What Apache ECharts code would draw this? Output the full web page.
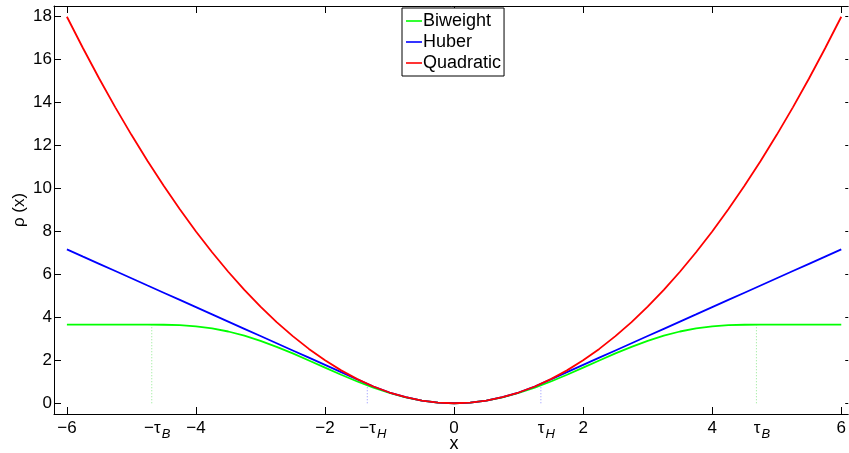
<!DOCTYPE html>
<html>
<head>
<meta charset="utf-8">
<script src="https://cdn.jsdelivr.net/npm/echarts@6/dist/echarts.min.js"></script>
<style>
  html, body { margin: 0; padding: 0; background: #fff; overflow: hidden; }
  #chart { width: 849px; height: 453px; }
</style>
</head>
<body>
<div id="chart"></div>
<script>
// Loss functions rho(x) sampled on x = -6 .. 6
const xs = [-6, -5.75, -5.5, -5.25, -5, -4.75, -4.5, -4.25, -4, -3.75, -3.5, -3.25, -3, -2.75, -2.5, -2.25,
  -2, -1.75, -1.5, -1.25, -1, -0.75, -0.5, -0.25, 0, 0.25, 0.5, 0.75, 1, 1.25, 1.5, 1.75, 2,
  2.25, 2.5, 2.75, 3, 3.25, 3.5, 3.75, 4, 4.25, 4.5, 4.75, 5, 5.25, 5.5, 5.75, 6];

const biweight = [3.658, 3.658, 3.658, 3.658, 3.658, 3.658, 3.656, 3.638, 3.585, 3.488, 3.342, 3.147, 2.907,
  2.628, 2.320, 1.992, 1.658, 1.328, 1.014, 0.727, 0.478, 0.274, 0.124, 0.031, 0,
  0.031, 0.124, 0.274, 0.478, 0.727, 1.014, 1.328, 1.658, 1.992, 2.320, 2.628, 2.907, 3.147,
  3.342, 3.488, 3.585, 3.638, 3.656, 3.658, 3.658, 3.658, 3.658, 3.658, 3.658];

const huber = [7.166, 6.829, 6.493, 6.157, 5.821, 5.484, 5.148, 4.812, 4.476, 4.139, 3.803, 3.467, 3.131,
  2.794, 2.458, 2.122, 1.786, 1.449, 1.113, 0.781, 0.5, 0.281, 0.125, 0.031, 0,
  0.031, 0.125, 0.281, 0.5, 0.781, 1.113, 1.449, 1.786, 2.122, 2.458, 2.794, 3.131, 3.467,
  3.803, 4.139, 4.476, 4.812, 5.148, 5.484, 5.821, 6.157, 6.493, 6.829, 7.166];

const quadratic = [18, 16.531, 15.125, 13.781, 12.5, 11.281, 10.125, 9.031, 8, 7.031, 6.125, 5.281, 4.5,
  3.781, 3.125, 2.531, 2, 1.531, 1.125, 0.781, 0.5, 0.281, 0.125, 0.031, 0,
  0.031, 0.125, 0.281, 0.5, 0.781, 1.125, 1.531, 2, 2.531, 3.125, 3.781, 4.5, 5.281,
  6.125, 7.031, 8, 9.031, 10.125, 11.281, 12.5, 13.781, 15.125, 16.531, 18];

// Tuning constants and the loss value at each
const tauB = 4.685;
const tauH = 1.345;
const rhoAtTauB = 3.658;
const rhoAtTauH = 0.905;

const xTicks = [-6, -4, -2, 0, 2, 4, 6];
const yTicks = [0, 2, 4, 6, 8, 10, 12, 14, 16, 18];
const seriesNames = ['Biweight', 'Huber', 'Quadratic'];
const seriesColors = ['#00ff00', '#0000ff', '#ff0000'];

const FONT = '"Liberation Sans", Arial, Helvetica, sans-serif';
const FS = 17;
const X_MIN = -6.2, X_MAX = 6.108;
const xLabelValues = xTicks.concat([-tauB, -tauH, tauH, tauB]).sort((a, b) => a - b);

// tau labels: the symbol is centred on the tick, the italic subscript hangs to its right
function xLabel(v) {
  const near = (a, b) => Math.abs(a - b) < 1e-6;
  if (near(v, -tauB)) return '{tl|\u2212\u03c4}{s|B}';
  if (near(v, tauB)) return '{tl|\u03c4}{s|B}';
  if (near(v, -tauH)) return '{tl|\u2212\u03c4}{s|H}';
  if (near(v, tauH)) return '{tl|\u03c4}{s|H}';
  return '{t|' + (v < 0 ? '\u2212' + (-v) : String(v)) + '}';
}

const pair = (a, b) => a.map((v, i) => [v, b[i]]);

const chart = echarts.init(document.getElementById('chart'), null, { renderer: 'canvas' });

const axisLineStyle = { color: '#000', width: 1 };

chart.setOption({
  animation: false,
  backgroundColor: '#fff',
  textStyle: { fontFamily: FONT },
  grid: { left: 54, top: 6, right: 0, height: 408, containLabel: false },
  legend: {
    orient: 'vertical',
    left: 402,
    top: 8,
    data: seriesNames,
    icon: 'rect',
    itemWidth: 16,
    itemHeight: 1.6,
    itemGap: 3,
    padding: [4, 3, 4, 4],
    backgroundColor: '#fff',
    borderColor: '#000',
    borderWidth: 1,
    borderRadius: 0,
    textStyle: { fontFamily: FONT, fontSize: 18, color: '#000', padding: [0, 0, 0, -4] }
  },
  xAxis: [{
    type: 'value',
    min: X_MIN,
    max: X_MAX,
    axisLine: { lineStyle: axisLineStyle, onZero: false },
    splitLine: { show: false },
    axisTick: { inside: true, length: 7, lineStyle: axisLineStyle, customValues: xTicks },
    axisLabel: {
      customValues: xLabelValues,
      margin: 6,
      hideOverlap: false,
      formatter: xLabel,
      rich: {
        t: { fontFamily: FONT, fontSize: FS, color: '#000', verticalAlign: 'top' },
        tl: { fontFamily: FONT, fontSize: FS, color: '#000', verticalAlign: 'top',
              padding: [0, 0, 0, 11] },
        s: { fontFamily: FONT, fontSize: 13, fontStyle: 'italic', color: '#000',
             verticalAlign: 'top', padding: [8, 0, 0, 1] }
      }
    }
  }, {
    type: 'value',
    position: 'top',
    min: X_MIN,
    max: X_MAX,
    axisLine: { show: true, lineStyle: axisLineStyle, onZero: false },
    splitLine: { show: false },
    axisTick: { inside: true, length: 7, lineStyle: axisLineStyle, customValues: xTicks },
    axisLabel: { show: false }
  }],
  yAxis: [{
    type: 'value',
    min: -0.5,
    max: 18.5,
    axisLine: { show: true, lineStyle: axisLineStyle, onZero: false },
    splitLine: { show: false },
    axisTick: { inside: true, length: 7, lineStyle: axisLineStyle, customValues: yTicks },
    axisLabel: {
      customValues: yTicks,
      margin: 2,
      fontFamily: FONT,
      fontSize: FS,
      color: '#000'
    }
  }, {
    // right-hand frame edge lies just past the page; only the tick ends show
    type: 'value',
    position: 'right',
    min: -0.5,
    max: 18.5,
    axisLine: { show: false, onZero: false },
    splitLine: { show: false },
    axisTick: { show: true, inside: true, length: 3, lineStyle: axisLineStyle, customValues: yTicks },
    axisLabel: { show: false }
  }],
  graphic: [
    {
      type: 'text', silent: true,
      x: 454, y: 444,
      style: { text: 'x', font: '18px ' + FONT, fill: '#000',
               align: 'center', verticalAlign: 'middle' }
    },
    {
      type: 'text', silent: true,
      x: 11, y: 210, rotation: Math.PI / 2,
      style: { text: '\u03c1 (x)', font: FS + 'px ' + FONT, fill: '#000',
               align: 'center', verticalAlign: 'top' }
    }
  ],
  series: [
    // vertical guides at the tuning constants
    ...[[-tauB, rhoAtTauB], [tauB, rhoAtTauB]].map(p => ({
      type: 'line', symbol: 'none', silent: true, z: 1,
      data: [[p[0], 0], p],
      lineStyle: { color: '#8fe88f', width: 1, type: [1, 2] }
    })),
    ...[[-tauH, rhoAtTauH], [tauH, rhoAtTauH]].map(p => ({
      type: 'line', symbol: 'none', silent: true, z: 1,
      data: [[p[0], 0], p],
      lineStyle: { color: '#9090ff', width: 1, type: [1, 2] }
    })),
    {
      name: seriesNames[0], type: 'line', symbol: 'none', z: 3,
      data: pair(xs, biweight),
      color: seriesColors[0],
      lineStyle: { color: seriesColors[0], width: 1.8 }
    },
    {
      name: seriesNames[1], type: 'line', symbol: 'none', z: 4,
      data: pair(xs, huber),
      color: seriesColors[1],
      lineStyle: { color: seriesColors[1], width: 1.8 }
    },
    {
      name: seriesNames[2], type: 'line', symbol: 'none', z: 5,
      data: pair(xs, quadratic),
      color: seriesColors[2],
      lineStyle: { color: seriesColors[2], width: 1.8 }
    }
  ]
});
</script>
</body>
</html>
